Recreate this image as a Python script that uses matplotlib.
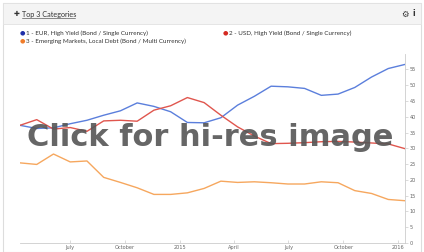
import matplotlib
matplotlib.use("Agg")
import matplotlib.pyplot as plt
import pandas as pd

# 4-weekly observations
dates = pd.date_range("2014-04-08", periods=24, freq="28D")

eur_hy = [37.3, 36.3, 36.5, 37.8, 38.9, 40.5, 41.9, 44.4, 43.3, 41.6, 38.2, 38.1,
          39.7, 43.7, 46.5, 49.7, 49.5, 49.0, 46.8, 47.2, 49.3, 52.6, 55.3, 56.6]
usd_hy = [37.3, 39.1, 36.1, 36.6, 35.4, 38.7, 38.9, 38.6, 42.1, 43.5, 46.1, 44.5,
          40.5, 36.8, 33.9, 31.5, 31.6, 31.8, 32.1, 32.2, 32.0, 31.7, 31.4, 29.9]
em_local = [25.4, 24.9, 28.2, 25.7, 26.0, 20.8, 19.2, 17.5, 15.4, 15.4, 15.9, 17.3,
            19.6, 19.2, 19.4, 19.1, 18.7, 18.7, 19.4, 19.1, 16.6, 15.7, 13.8, 13.4]

series_names = [
    "1 - EUR, High Yield (Bond / Single Currency)",
    "2 - USD, High Yield (Bond / Single Currency)",
    "3 - Emerging Markets, Local Debt (Bond / Multi Currency)",
]
line_colors = ["#5b7fdc", "#e0564e", "#f6a75e"]
dot_colors = ["#1f2fa8", "#d42a22", "#f07c2a"]

x_ticks = ["2014-07-01", "2014-10-01", "2015-01-01", "2015-04-01",
           "2015-07-01", "2015-10-01", "2016-01-01"]
x_labels = ["July", "October", "2015", "April", "July", "October", "2016"]
y_ticks = [0, 5, 10, 15, 20, 25, 30, 35, 40, 45, 50, 55]

W, H = 424, 252
fig = plt.figure(figsize=(W / 100, H / 100), dpi=100)
fig.patch.set_facecolor("white")

# panel frame + header band (kept behind the axes)
frame = plt.Rectangle((3 / W, 0), 1 - 6 / W, 1 - 3 / H, transform=fig.transFigure,
                      facecolor="white", edgecolor="#dddddd", linewidth=0.8, zorder=-2)
fig.add_artist(frame)
header = plt.Rectangle((3 / W, 1 - 24 / H), 1 - 6 / W, 21 / H, transform=fig.transFigure,
                       facecolor="#f4f4f4", edgecolor="#e2e2e2", linewidth=0.6, zorder=-1)
fig.add_artist(header)

fig.text(14 / W, 1 - 14.5 / H, "✚", fontsize=5, color="#333333", va="center",
         family="DejaVu Sans")
fig.text(22 / W, 1 - 14.5 / H, "Top 3 Categories", fontsize=5.2, color="#333333",
         va="center", family="Lato")
fig.add_artist(plt.Line2D([22 / W, 75 / W], [1 - 18 / H, 1 - 18 / H],
                          transform=fig.transFigure, color="#333333", linewidth=0.4))
fig.text(405 / W, 1 - 14 / H, "⚙", fontsize=6, color="#333333", va="center", ha="center",
         family="DejaVu Sans")
fig.text(414 / W, 1 - 14 / H, "i", fontsize=5.5, color="#333333", va="center", ha="center",
         family="DejaVu Sans", fontweight="bold")

# legend
legend_pos = [(22, 33), (225, 33), (22, 41)]
for name, col, (lx, ly) in zip(series_names, dot_colors, legend_pos):
    fig.text(lx / W, 1 - ly / H, "●", fontsize=4.5, color=col, va="center", ha="center",
             family="DejaVu Sans")
    fig.text((lx + 4) / W, 1 - ly / H, name, fontsize=4.5, color="#333333", va="center",
             family="Lato")

# chart area
ax = fig.add_axes([20 / W, 9 / H, 385 / W, 189.3 / H])
for vals, col in zip([eur_hy, usd_hy, em_local], line_colors):
    ax.plot(dates, vals, color=col, linewidth=1.0, solid_joinstyle="round")

ax.set_xlim(dates[0], dates[-1])
ax.set_ylim(0, 60)
ax.set_facecolor("none")
for side in ("top", "left"):
    ax.spines[side].set_visible(False)
ax.spines["right"].set_color("#cccccc")
ax.spines["bottom"].set_color("#cccccc")
ax.spines["right"].set_linewidth(0.6)
ax.spines["bottom"].set_linewidth(0.6)

ax.yaxis.tick_right()
ax.set_yticks(y_ticks)
ax.set_yticklabels([str(v) for v in y_ticks])
ax.set_xticks(pd.to_datetime(x_ticks))
ax.set_xticklabels(x_labels)
ax.tick_params(axis="y", labelsize=3.6, colors="#666666", length=2, width=0.5, pad=1.5,
               color="#cccccc")
ax.tick_params(axis="x", labelsize=3.6, colors="#666666", length=2, width=0.5, pad=1.5,
               color="#cccccc", direction="in")

fig.text(210 / W, 1 - 137 / H, "Click for hi-res image", fontsize=22, fontweight="bold",
         color="#555555", alpha=0.9, ha="center", va="center", family="DejaVu Sans",
         zorder=5)

fig.savefig("out.png", dpi=100)
